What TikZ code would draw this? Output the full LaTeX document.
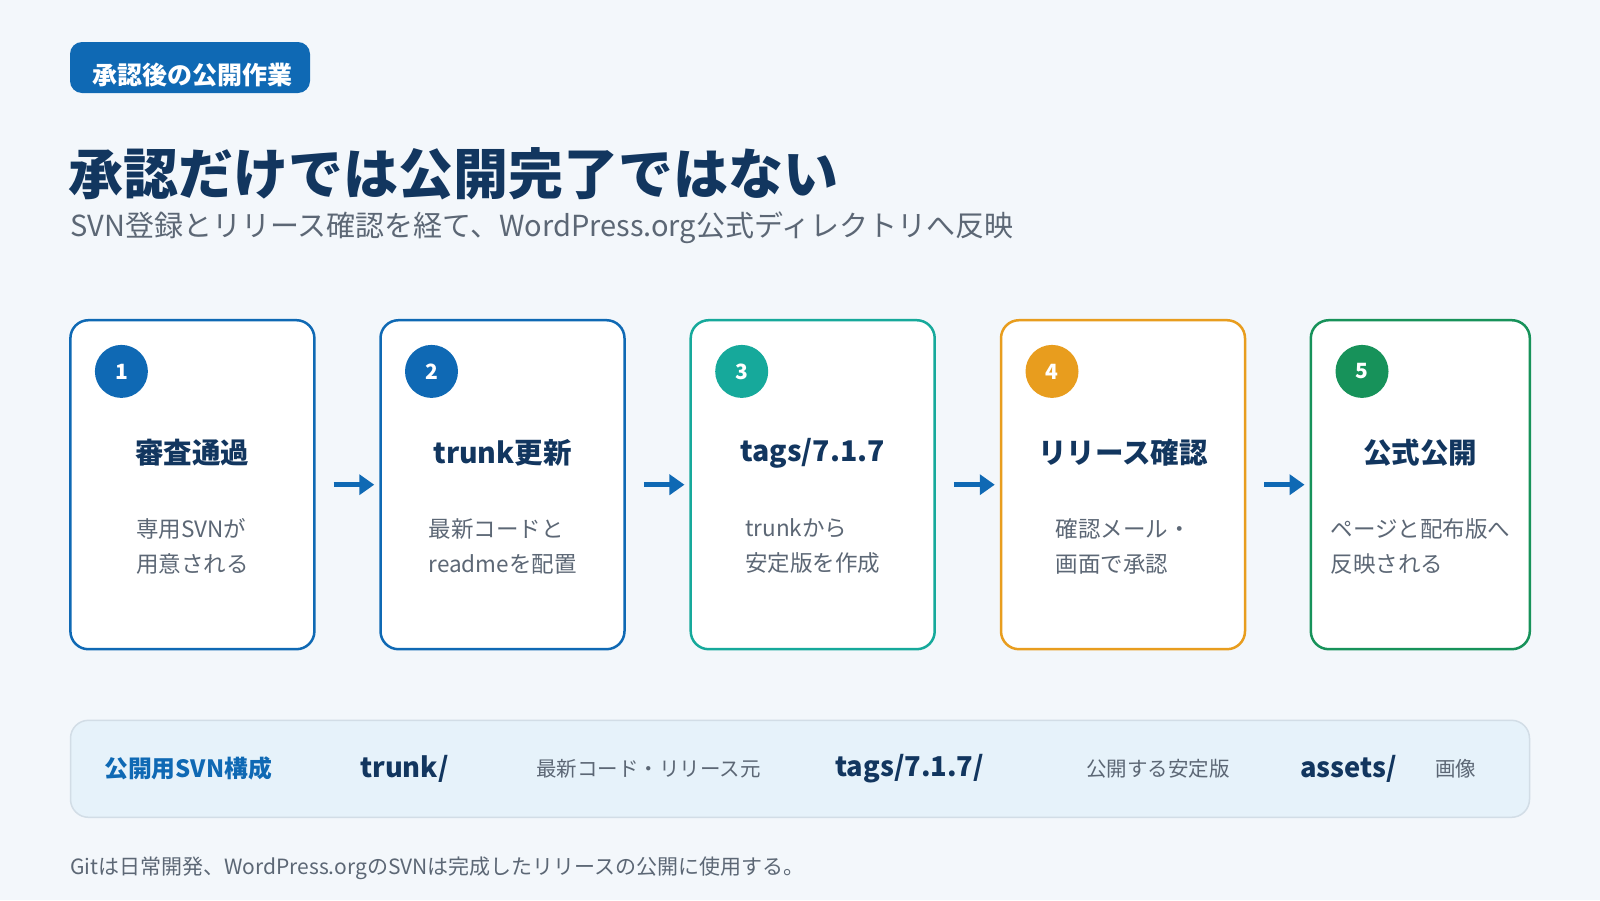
\documentclass[tikz,border=0pt]{standalone}
\usepackage{fontspec}
\setmainfont{Noto Sans CJK JP}
\usetikzlibrary{arrows.meta}
\definecolor{bg}{HTML}{F3F7FB}
\definecolor{blue1}{HTML}{0F69B4}
\definecolor{teal1}{HTML}{16A99B}
\definecolor{orange1}{HTML}{E89D1E}
\definecolor{green1}{HTML}{17925A}
\definecolor{navy}{HTML}{12365F}
\definecolor{gray1}{HTML}{5C6775}
\definecolor{barfill}{HTML}{E6F2FA}
\definecolor{barline}{HTML}{D2DDE6}
\begin{document}
\begin{tikzpicture}[x=1pt,y=-1pt,
  card/.style={draw, line width=2.5pt, rounded corners=18pt, fill=white, minimum height=329pt, inner sep=0pt},
  num/.style={circle, minimum size=53pt, inner sep=0pt, text=white, font=\fontsize{21}{24}\selectfont\bfseries},
  ctitle/.style={text=navy, font=\fontsize{28.5}{34}\selectfont\bfseries, inner sep=0pt},
  cdesc/.style={text=gray1, font=\fontsize{22.5}{35}\selectfont, align=left, inner sep=0pt},
  arr/.style={draw=blue1, line width=5pt, -{Triangle[length=15pt,width=20pt]}},
  barkey/.style={anchor=west, inner sep=0pt, text=navy, font=\fontsize{27.3}{32}\selectfont\bfseries},
  barval/.style={anchor=west, inner sep=0pt, text=gray1, font=\fontsize{20.5}{24}\selectfont},
  ]
\path[use as bounding box, fill=bg] (0,0) rectangle (1600,900);

% badge
\node[fill=blue1, rounded corners=12pt, minimum width=240pt, minimum height=51pt, inner sep=0pt] (badge) at (190,67.5) {};
\node[text=white, inner sep=0pt, font=\fontsize{25}{28}\selectfont\bfseries] (badgetext) at (192,74.5) {承認後の公開作業};

% title
\node[anchor=west, inner sep=0pt, text=navy, font=\fontsize{55}{60}\selectfont\bfseries] (title) at (68,174) {承認だけでは公開完了ではない};
\node[anchor=west, inner sep=0pt, text=gray1, font=\fontsize{29}{34}\selectfont] (subtitle) at (70,228) {SVN登録とリリース確認を経て、WordPress.org公式ディレクトリへ反映};

% cards
\node[card, draw=blue1, minimum width=244pt] (k1) at (192.4,484.7) {};
\node[card, draw=blue1, minimum width=244pt] (k2) at (502.5,484.7) {};
\node[card, draw=teal1, minimum width=244pt] (k3) at (812.7,484.7) {};
\node[card, draw=orange1, minimum width=244pt] (k4) at (1123,484.7) {};
\node[card, draw=green1, minimum width=219pt] (k5) at (1420.3,484.7) {};

\node[num, fill=blue1] (n1) at (121.4,371.4) {1};
\node[num, fill=blue1] (n2) at (431.5,371.4) {2};
\node[num, fill=teal1] (n3) at (741.7,371.4) {3};
\node[num, fill=orange1] (n4) at (1052,371.4) {4};
\node[num, fill=green1] (n5) at (1362,371.4) {5};

\node[ctitle] (t1) at (192.4,453) {審査通過};
\node[ctitle] (t2) at (502.5,453) {trunk更新};
\node[ctitle] (t3) at (812.7,453) {tags/7.1.7};
\node[ctitle] (t4) at (1123,453) {リリース確認};
\node[ctitle] (t5) at (1420.3,453) {公式公開};

\node[cdesc] (d1) at (192.4,546.5) {専用SVNが\\用意される};
\node[cdesc] (d2) at (502.5,546.5) {最新コードと\\readmeを配置};
\node[cdesc] (d3) at (812.7,546.5) {trunkから\\安定版を作成};
\node[cdesc] (d4) at (1123,546.5) {確認メール・\\画面で承認};
\node[cdesc] (d5) at (1420.3,546.5) {ページと配布版へ\\反映される};

\draw[arr] ([xshift=18pt]k1.east) -- ([xshift=-5pt]k2.west);
\draw[arr] ([xshift=18pt]k2.east) -- ([xshift=-5pt]k3.west);
\draw[arr] ([xshift=18pt]k3.east) -- ([xshift=-5pt]k4.west);
\draw[arr] ([xshift=18pt]k4.east) -- ([xshift=-5pt]k5.west);

% bottom bar
\node[draw=barline, fill=barfill, line width=1.5pt, rounded corners=18pt, minimum width=1459pt, minimum height=97pt, inner sep=0pt] (bar) at (800,768.8) {};
\node[anchor=west, inner sep=0pt, text=blue1, font=\fontsize{23.8}{28}\selectfont\bfseries] (b0) at (104,768) {公開用SVN構成};
\node[barkey] (b1) at (360,769) {trunk/};
\node[barval] (b2) at (536,768.5) {最新コード・リリース元};
\node[barkey] (b3) at (835,769) {tags/7.1.7/};
\node[barval] (b4) at (1086,768.5) {公開する安定版};
\node[barkey] (b5) at (1300,769) {assets/};
\node[barval] (b6) at (1435,768.5) {画像};

% footer
\node[anchor=west, inner sep=0pt, text=gray1, font=\fontsize{21}{24}\selectfont] (foot) at (70,868) {Gitは日常開発、WordPress.orgのSVNは完成したリリースの公開に使用する。};
\end{tikzpicture}
\end{document}
